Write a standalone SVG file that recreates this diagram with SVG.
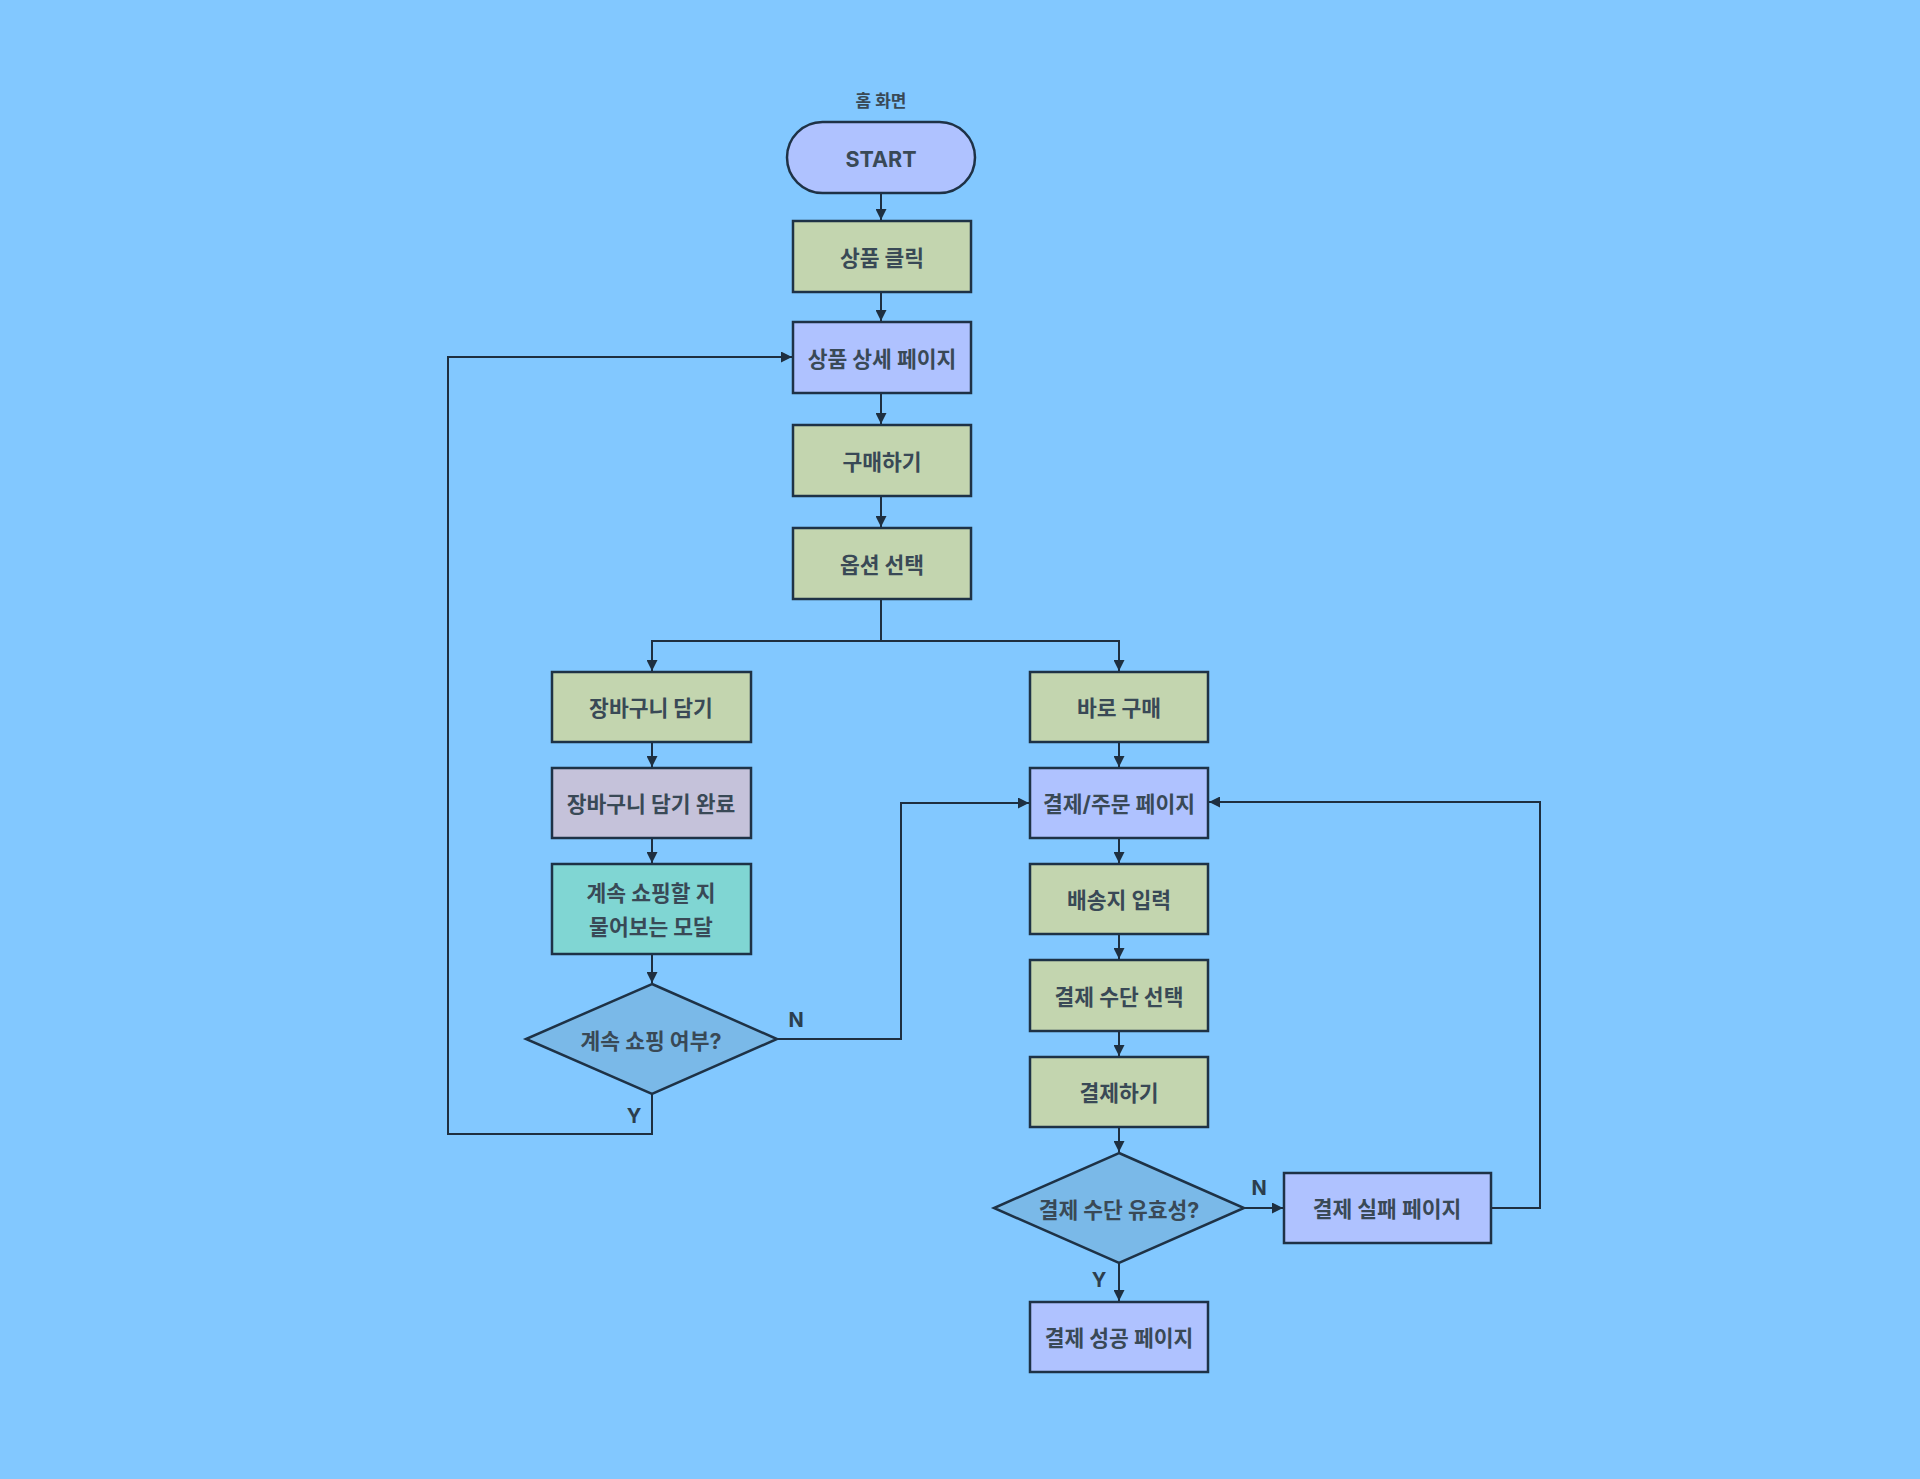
<svg xmlns="http://www.w3.org/2000/svg" width="1920" height="1479" viewBox="0 0 1920 1479">
<defs>
<marker id="arr" viewBox="0 0 10 10" refX="10" refY="5" markerWidth="11" markerHeight="11" markerUnits="userSpaceOnUse" orient="auto">
<path d="M0,0 L10,5 L0,10 Z" fill="#1E2F40"/>
</marker>
<style>
.n{stroke:#1E3246;stroke-width:2.5}
.g{fill:#C3D5AF}
.b{fill:#AFC2FF}
.l{fill:#C5C2DA}
.t{fill:#80D6D3}
.d{fill:#7AB9E8}
.tx{font-family:"Inter","Noto Sans CJK KR",sans-serif;font-weight:700;font-size:21.5px;fill:#394956;text-anchor:middle;dominant-baseline:central}
.lb{font-family:"Inter","Noto Sans CJK KR",sans-serif;font-weight:700;font-size:20px;fill:#2C3E4E;text-anchor:middle;dominant-baseline:central}
.c{fill:none;stroke:#1E2F40;stroke-width:2}
</style>
</defs>
<rect width="1920" height="1479" fill="#82C8FF"/>
<g id="connectors">
<path class="c" d="M881,193 V220" marker-end="url(#arr)"/>
<path class="c" d="M881,292 V321" marker-end="url(#arr)"/>
<path class="c" d="M881,393 V424" marker-end="url(#arr)"/>
<path class="c" d="M881,496 V527" marker-end="url(#arr)"/>
<path class="c" d="M881,599 V641 H652 V671" marker-end="url(#arr)"/>
<path class="c" d="M881,641 H1119 V671" marker-end="url(#arr)"/>
<path class="c" d="M652,742 V767" marker-end="url(#arr)"/>
<path class="c" d="M652,838 V863" marker-end="url(#arr)"/>
<path class="c" d="M652,954 V983" marker-end="url(#arr)"/>
<path class="c" d="M652,1094 V1134 H448 V357 H792" marker-end="url(#arr)"/>
<path class="c" d="M777,1039 H901 V803 H1029" marker-end="url(#arr)"/>
<path class="c" d="M1119,742 V767" marker-end="url(#arr)"/>
<path class="c" d="M1119,838 V863" marker-end="url(#arr)"/>
<path class="c" d="M1119,934 V959" marker-end="url(#arr)"/>
<path class="c" d="M1119,1031 V1056" marker-end="url(#arr)"/>
<path class="c" d="M1119,1127 V1152" marker-end="url(#arr)"/>
<path class="c" d="M1119,1263 V1301" marker-end="url(#arr)"/>
<path class="c" d="M1244,1208 H1283" marker-end="url(#arr)"/>
<path class="c" d="M1491,1208 H1540 V802 H1209" marker-end="url(#arr)"/>
<text class="lb" x="796" y="1020">N</text>
<text class="lb" x="634" y="1116">Y</text>
<text class="lb" x="1259" y="1188">N</text>
<text class="lb" x="1099" y="1280">Y</text>
</g>
<g id="home-label"><text class="tx" x="881" y="101" style="font-size:17px">홈 화면</text></g>
<g id="start"><rect class="n b" x="787" y="122" width="188" height="71" rx="35.5"/><text class="tx" x="881" y="159">START</text></g>
<g id="click"><rect class="n g" x="793" y="221" width="178" height="71"/><text class="tx" x="882" y="258">상품 클릭</text></g>
<g id="detail"><rect class="n b" x="793" y="322" width="178" height="71"/><text class="tx" x="882" y="359">상품 상세 페이지</text></g>
<g id="buy"><rect class="n g" x="793" y="425" width="178" height="71"/><text class="tx" x="882" y="462">구매하기</text></g>
<g id="option"><rect class="n g" x="793" y="528" width="178" height="71"/><text class="tx" x="882" y="565">옵션 선택</text></g>
<g id="cart"><rect class="n g" x="552" y="672" width="199" height="70"/><text class="tx" x="651" y="708">장바구니 담기</text></g>
<g id="cart-done"><rect class="n l" x="552" y="768" width="199" height="70"/><text class="tx" x="651" y="804">장바구니 담기 완료</text></g>
<g id="modal"><rect class="n t" x="552" y="864" width="199" height="90"/><text class="tx" x="651" y="893">계속 쇼핑할 지</text><text class="tx" x="651" y="927">물어보는 모달</text></g>
<g id="continue"><polygon class="n d" points="652,984 777,1039 652,1094 526,1039"/><text class="tx" x="651" y="1041">계속 쇼핑 여부?</text></g>
<g id="direct"><rect class="n g" x="1030" y="672" width="178" height="70"/><text class="tx" x="1119" y="708">바로 구매</text></g>
<g id="checkout"><rect class="n b" x="1030" y="768" width="178" height="70"/><text class="tx" x="1119" y="804">결제/주문 페이지</text></g>
<g id="address"><rect class="n g" x="1030" y="864" width="178" height="70"/><text class="tx" x="1119" y="900">배송지 입력</text></g>
<g id="method"><rect class="n g" x="1030" y="960" width="178" height="71"/><text class="tx" x="1119" y="997">결제 수단 선택</text></g>
<g id="pay"><rect class="n g" x="1030" y="1057" width="178" height="70"/><text class="tx" x="1119" y="1093">결제하기</text></g>
<g id="valid"><polygon class="n d" points="1119,1153 1244,1208 1119,1263 994,1208"/><text class="tx" x="1119" y="1210">결제 수단 유효성?</text></g>
<g id="fail"><rect class="n b" x="1284" y="1173" width="207" height="70"/><text class="tx" x="1387" y="1209">결제 실패 페이지</text></g>
<g id="success"><rect class="n b" x="1030" y="1302" width="178" height="70"/><text class="tx" x="1119" y="1338">결제 성공 페이지</text></g>
</svg>
